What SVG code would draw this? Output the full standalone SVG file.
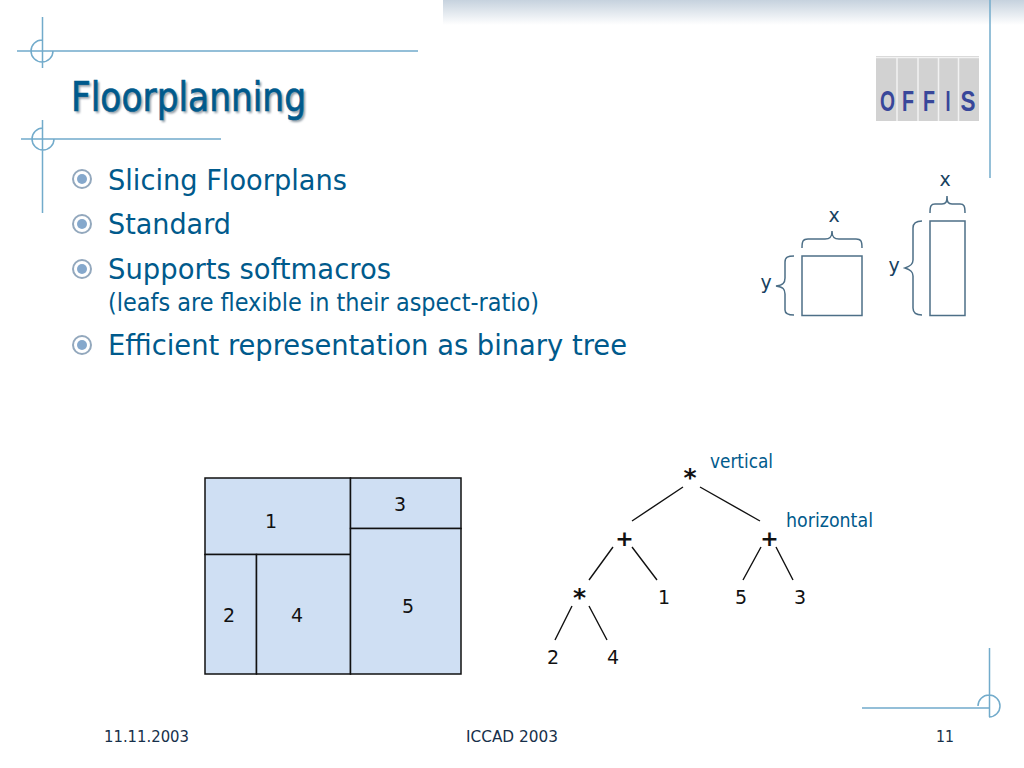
<svg xmlns="http://www.w3.org/2000/svg" width="1024" height="768" viewBox="0 0 1024 768">
<style>
text{font-family:"DejaVu Sans","Liberation Sans",sans-serif}
.deco{stroke:#72abcb;stroke-width:1.5;fill:none}
.t{fill:#005a8c}
.b{font-size:29px;fill:#005a8c}
.k{fill:#111;font-size:19px;text-anchor:middle}
.op{fill:#111;font-size:25px;text-anchor:middle;font-weight:bold}
.c{stroke:#111;stroke-width:1.4;fill:none}
.cell{fill:#cfdff3;stroke:#111;stroke-width:1.5}
.bul{fill:#fff;stroke:#93a8bd;stroke-width:2}
.dot{fill:#85a8cc}
.sh{stroke:#4d6f87;stroke-width:1.5;fill:none}
.lbl{fill:#17415f;font-size:19px;text-anchor:middle}
.foot{fill:#17304a;font-size:15px}
.lg{font-size:30px;fill:#38479a;text-anchor:middle;font-weight:bold}
text.lg{font-family:"Liberation Sans",sans-serif}
</style>
<defs>
<linearGradient id="bar" x1="0" y1="0" x2="0" y2="1"><stop offset="0" stop-color="#c6d2de"/><stop offset="1" stop-color="#fff"/></linearGradient>
<filter id="shadow" x="-5%" y="-20%" width="110%" height="140%"><feGaussianBlur stdDeviation="0.8"/></filter>
</defs>
<rect width="1024" height="768" fill="#fff"/>
<rect id="topbar" x="443" y="0" width="581" height="25" fill="url(#bar)"/>
<g id="decor">
<path class="deco" d="M17 51H418M42.500 17V68M42 40A11 11 0 1 0 53 51"/>
<path class="deco" d="M21 139H221M42.500 120V213M43 128A11 11 0 1 0 54 139"/>
<path class="deco" d="M990 0V178"/>
<path class="deco" d="M862 708H990M989.500 648V717M978 706A11 11 0 1 1 989 717"/>
</g>
<g id="title">
<text x="73" y="113" font-size="40" fill="#8c98a3" filter="url(#shadow)" textLength="235" lengthAdjust="spacingAndGlyphs">Floorplanning</text>
<text x="71" y="111" font-size="40" class="t" textLength="235" lengthAdjust="spacingAndGlyphs" stroke="#005a8c" stroke-width="0.7">Floorplanning</text>
</g>
<g id="logo">
<rect x="876" y="56" width="103" height="65" fill="#d2d2d2"/>
<path d="M897 57V121M918 57V121M938.500 57V121M958.500 57V121M876 57.500H979" stroke="#f2f2f2" stroke-width="1.500" fill="none"/>
<text class="lg" x="887.500" y="111" textLength="15" lengthAdjust="spacingAndGlyphs">O</text>
<text class="lg" x="908" y="111" textLength="12" lengthAdjust="spacingAndGlyphs">F</text>
<text class="lg" x="929" y="111" textLength="12" lengthAdjust="spacingAndGlyphs">F</text>
<text class="lg" x="948" y="111" textLength="5" lengthAdjust="spacingAndGlyphs">I</text>
<text class="lg" x="968" y="111" textLength="15" lengthAdjust="spacingAndGlyphs">S</text>
</g>
<g id="bullets">
<g id="bullet1"><circle class="bul" cx="82" cy="179" r="9"/><circle class="dot" cx="82" cy="179" r="5"/><text class="b" x="108" y="190" textLength="239" lengthAdjust="spacingAndGlyphs">Slicing Floorplans</text></g>
<g id="bullet2"><circle class="bul" cx="82" cy="224" r="9"/><circle class="dot" cx="82" cy="224" r="5"/><text class="b" x="108" y="234" textLength="123" lengthAdjust="spacingAndGlyphs">Standard</text></g>
<g id="bullet3"><circle class="bul" cx="82" cy="269" r="9"/><circle class="dot" cx="82" cy="269" r="5"/><text class="b" x="108" y="279" textLength="283" lengthAdjust="spacingAndGlyphs">Supports softmacros</text>
<text x="108" y="311" font-size="24" class="t" textLength="431" lengthAdjust="spacingAndGlyphs">(leafs are flexible in their aspect-ratio)</text></g>
<g id="bullet4"><circle class="bul" cx="82" cy="345" r="9"/><circle class="dot" cx="82" cy="345" r="5"/><text class="b" x="108" y="355" textLength="519" lengthAdjust="spacingAndGlyphs">Efficient representation as binary tree</text></g>
</g>
<g id="shapes">
<g id="square"><rect class="sh" x="802" y="256" width="60" height="59.500"/>
<path class="sh" d="M802 248C802 241 803 239 808 239H825C830 239 832 237 832 231C832 237 834 239 839 239H856C861 239 862 241 862 248"/>
<path class="sh" d="M794 256C788 256 785 257 785 262V278C785 283 783 285 776 286C783 287 785 289 785 294V310C785 314 788 315 794 315"/>
<text class="lbl" x="834" y="222">x</text><text class="lbl" x="766" y="289">y</text></g>
<g id="tall"><rect class="sh" x="930" y="221" width="35" height="94.500"/>
<path class="sh" d="M930 213C930 206 931 204 935 204H942C946 204 947 202 947 196C947 202 948 204 952 204H960C964 204 965 206 965 213"/>
<path class="sh" d="M922 221C916 221 913 223 913 228V260C913 264 911 266 905 268C911 270 913 272 913 276V308C913 313 916 315 922 315"/>
<text class="lbl" x="945" y="186">x</text><text class="lbl" x="894" y="272">y</text></g>
</g>
<g id="floorplan">
<rect id="cell1" class="cell" x="205" y="478" width="145.500" height="76.500"/>
<rect id="cell3" class="cell" x="350.500" y="478" width="110.500" height="50.500"/>
<rect id="cell2" class="cell" x="205" y="554.500" width="51.500" height="119.500"/>
<rect id="cell4" class="cell" x="256.500" y="554.500" width="94" height="119.500"/>
<rect id="cell5" class="cell" x="350.500" y="528.500" width="110.500" height="145.500"/>
<text class="k" x="271" y="528">1</text><text class="k" x="400" y="511">3</text><text class="k" x="229" y="622">2</text><text class="k" x="297" y="622">4</text><text class="k" x="408" y="613">5</text>
</g>
<g id="connectors">
<path class="c" d="M683 487L632 521M700 487L760 521M613 547L589 580M632 547L657 580M761 547L743 580M776 547L793 580M572 606L555 640M589 606L607 640"/>
</g>
<g id="tree">
<g id="n-root"><text class="op" x="690" y="486">*</text></g>
<g id="n-plus1"><text class="k" x="624.500" y="546" style="font-size:22px;font-weight:bold">+</text></g>
<g id="n-plus2"><text class="k" x="769.500" y="546" style="font-size:22px;font-weight:bold">+</text></g>
<g id="n-star"><text class="op" x="579.500" y="606">*</text></g>
<g id="n-1"><text class="k" x="664" y="604">1</text></g>
<g id="n-5"><text class="k" x="741" y="604">5</text></g>
<g id="n-3"><text class="k" x="800" y="604">3</text></g>
<g id="n-2"><text class="k" x="553" y="664">2</text></g>
<g id="n-4"><text class="k" x="613" y="664">4</text></g>
<text x="710" y="468" font-size="19" class="t" textLength="63" lengthAdjust="spacingAndGlyphs">vertical</text>
<text x="786" y="527" font-size="19" class="t" textLength="87" lengthAdjust="spacingAndGlyphs">horizontal</text>
</g>
<g id="footer">
<text class="foot" x="104" y="742" textLength="85" lengthAdjust="spacingAndGlyphs">11.11.2003</text>
<text class="foot" x="466" y="742" textLength="92" lengthAdjust="spacingAndGlyphs">ICCAD 2003</text>
<text class="foot" x="936" y="742" textLength="18" lengthAdjust="spacingAndGlyphs">11</text>
</g>
</svg>
